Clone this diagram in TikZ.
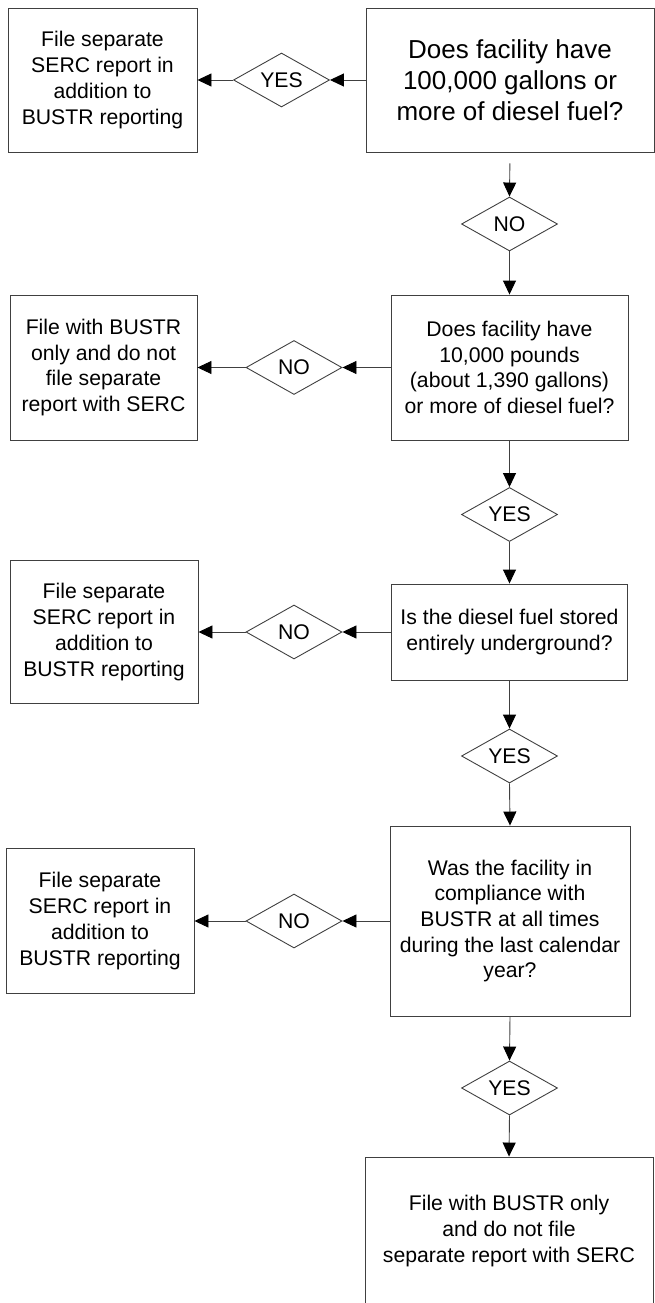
\documentclass[tikz,border=0pt]{standalone}
\usepackage{fontspec}
\setmainfont{Liberation Sans}
\usetikzlibrary{shapes.geometric,arrows.meta}
\definecolor{linec}{HTML}{404040}
\tikzset{
  box/.style={draw=linec, line width=0.9pt, rectangle, inner sep=0pt, align=center,
    font=\fontsize{21.2}{25.7}\selectfont},
  bigbox/.style={box, font=\fontsize{26}{31}\selectfont},
  dec/.style={draw=linec, line width=0.9pt, diamond, aspect=1.8, inner sep=0pt,
    minimum width=96pt, minimum height=54pt, font=\fontsize{21.2}{25.7}\selectfont},
  arr/.style={draw=linec, line width=0.9pt, -{Triangle[length=14pt,width=13pt,color=black]}}
}
\begin{document}
\begin{tikzpicture}[x=1pt,y=-1pt]
\useasboundingbox (0,0) rectangle (654,1303);
% row 1
\node[bigbox, minimum width=288pt, minimum height=144pt] (q1) at (510,80)
  {Does facility have\\100,000 gallons or\\more of diesel fuel?};
\node[dec] (yes1) at (281.5,80) {YES};
\node[box, minimum width=189pt, minimum height=144pt] (a) at (102.5,80)
  {File separate\\SERC report in\\addition to\\BUSTR reporting};
\node[dec] (no1) at (509.5,224) {NO};
% row 2
\node[box, minimum width=237pt, minimum height=145pt] (q2) at (509.5,367.5)
  {Does facility have\\10,000 pounds\\(about 1,390 gallons)\\or more of diesel fuel?};
\node[dec] (no2) at (294,367.5) {NO};
\node[box, minimum width=187pt, minimum height=145pt] (b) at (103.5,367.5)
  {File with BUSTR\\only and do not\\file separate\\report with SERC};
\node[dec] (yes2) at (509.5,514.5) {YES};
% row 3
\node[box, minimum width=236pt, minimum height=96pt] (q3) at (509.5,632)
  {Is the diesel fuel stored\\entirely underground?};
\node[dec] (no3) at (294,632) {NO};
\node[box, minimum width=188pt, minimum height=143pt] (c) at (104,632)
  {File separate\\SERC report in\\addition to\\BUSTR reporting};
\node[dec] (yes3) at (509.5,756) {YES};
% row 4
\node[box, minimum width=240pt, minimum height=190pt] (q4) at (510,921)
  {Was the facility in\\compliance with\\BUSTR at all times\\during the last calendar\\year?};
\node[dec] (no4) at (294,921) {NO};
\node[box, minimum width=188pt, minimum height=145pt] (d) at (100,921)
  {File separate\\SERC report in\\addition to\\BUSTR reporting};
\node[dec] (yes4) at (509.5,1088) {YES};
% final
\node[box, minimum width=288pt, minimum height=148pt] (e) at (509,1231)
  {File with BUSTR only\\and do not file\\separate report with SERC};
% connectors
\draw[arr] (q1.west) -- (yes1.east);
\draw[arr] (yes1.west) -- (a.east);
\draw[arr, shorten <=11pt] (q1.south) -- (no1.north);
\draw[arr] (no1.south) -- (q2.north);
\draw[arr] (q2.west) -- (no2.east);
\draw[arr] (no2.west) -- (b.east);
\draw[arr] (q2.south) -- (yes2.north);
\draw[arr] (yes2.south) -- (q3.north);
\draw[arr] (q3.west) -- (no3.east);
\draw[arr] (no3.west) -- (c.east);
\draw[arr] (q3.south) -- (yes3.north);
\draw[arr] (yes3.south) -- (q4.north);
\draw[arr] (q4.west) -- (no4.east);
\draw[arr] (no4.west) -- (d.east);
\draw[arr] (q4.south) -- (yes4.north);
\draw[arr] (yes4.south) -- (e.north);
\end{tikzpicture}
\end{document}
